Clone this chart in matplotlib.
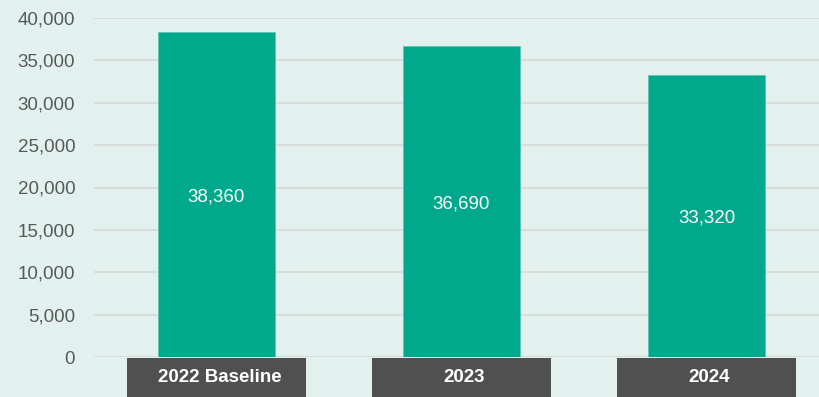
import matplotlib
matplotlib.use("Agg")
from matplotlib import pyplot as plt
from matplotlib.ticker import FuncFormatter

categories = ["2022 Baseline", "2023", "2024"]
values = [38360, 36690, 33320]
y_ticks = [0, 5000, 10000, 15000, 20000, 25000, 30000, 35000, 40000]

bg = "#E2F1EE"
bar_color = "#00A88C"
box_color = "#505050"
text_gray = "#595959"

plt.rcParams["font.family"] = ["Liberation Sans", "DejaVu Sans"]

fig = plt.figure(figsize=(8.2, 3.97), dpi=100, facecolor=bg)
W, H = 820.0, 397.0
x_min, x_max = -0.5, (820 - 216.5) / 245.0

# Main plot area
ax = fig.add_axes([94 / W, 40 / H, 1 - 94 / W, (357 - 18) / H])
ax.set_facecolor(bg)
x = range(len(categories))
ax.bar(x, values, width=117 / 245.0, color=bar_color, edgecolor="#5CC7B3",
       linewidth=0.6, zorder=3)
for i, v in enumerate(values):
    ax.text(i, v / 2.0 - 250, "{:,}".format(v), ha="center", va="center",
            color="white", fontsize=13.5, zorder=4)

ax.set_ylim(0, 40000)
ax.set_xlim(x_min, x_max)
ax.set_yticks(y_ticks)
ax.yaxis.set_major_formatter(FuncFormatter(lambda v, p: "{:,}".format(int(v))))
ax.tick_params(axis="y", length=0, pad=13.5, labelsize=13.5, labelcolor=text_gray)
ax.set_xticks([])
ax.grid(axis="y", color="#D6D9D8", linewidth=1.2, zorder=0)
for s in ax.spines.values():
    s.set_visible(False)

# Category label boxes below the plot
lab = fig.add_axes([94 / W, 0, 1 - 94 / W, 39 / H])
lab.set_facecolor(bg)
lab.bar(x, [1] * len(categories), width=179 / 245.0, bottom=0,
        color=box_color, align="center")
for i, c in enumerate(categories):
    lab.text(i + 0.012, 0.5, c, ha="center", va="center", color="white",
             fontsize=13.5, fontweight="bold")
lab.set_xlim(x_min, x_max)
lab.set_ylim(0, 1)
lab.axis("off")

fig.savefig("out.png", dpi=100, facecolor=bg)
